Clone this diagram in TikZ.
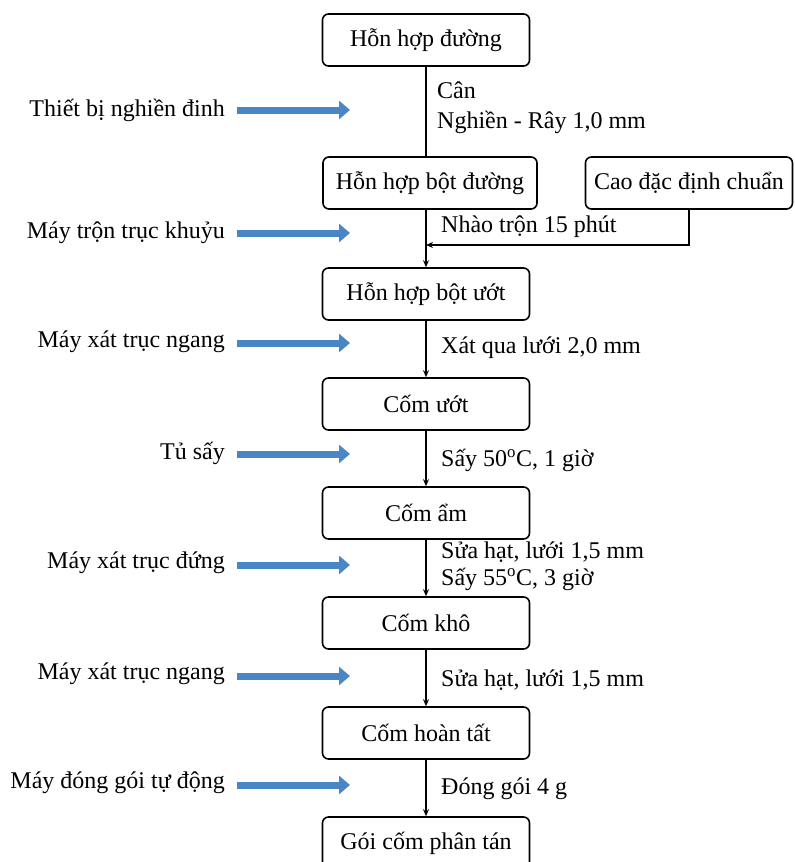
\documentclass[tikz,border=0pt]{standalone}
\usepackage{fontspec}
\setmainfont{Liberation Serif}
\usetikzlibrary{arrows.meta}
\definecolor{arrblue}{RGB}{74,134,198}
\tikzset{
  box/.style={draw, line width=1.6pt, rounded corners=6pt, minimum width=207pt, minimum height=52pt, inner sep=2pt, font=\fontsize{24}{28}\selectfont},
  lbl/.style={anchor=west, inner sep=0pt, font=\fontsize{24}{28}\selectfont},
  mlbl/.style={anchor=east, inner sep=0pt, font=\fontsize{24}{28}\selectfont},
  flow/.style={line width=1.2pt},
  flowarr/.style={line width=1.2pt, -{Stealth[length=7pt,width=6pt]}},
  bluearr/.style={draw=arrblue, line width=7pt, -{Triangle[length=11pt,width=18pt]}}
}
\begin{document}
\begin{tikzpicture}[x=1pt,y=-1pt]
\useasboundingbox (0,0) rectangle (795,862);
\clip (0,0) rectangle (795,862);
\fill[white] (0,0) rectangle (795,862);
% main boxes
\node[box] (b1) at (426,40) {Hỗn hợp đường};
\node[box, minimum width=214pt] (b2) at (430,183) {Hỗn hợp bột đường};
\node[box] (cao) at (689,183) {Cao đặc định chuẩn};
\node[box] (b3) at (426,294) {Hỗn hợp bột ướt};
\node[box] (b4) at (426,404) {Cốm ướt};
\node[box] (b5) at (426,513) {Cốm ẩm};
\node[box] (b6) at (426,623) {Cốm khô};
\node[box] (b7) at (426,733) {Cốm hoàn tất};
\node[box] (b8) at (426,843) {Gói cốm phân tán};
\coordinate (j) at (426,245);
% connectors
\draw[flow] (b1.south) -- (b1.south |- b2.north);
\draw[flowarr] (b2.south -| b1.south) -- (b3.north);
\draw[flowarr] (cao.south) |- (j);
\draw[flowarr] (b3.south) -- (b4.north);
\draw[flowarr] (b4.south) -- (b5.north);
\draw[flowarr] (b5.south) -- (b6.north);
\draw[flowarr] (b6.south) -- (b7.north);
\draw[flowarr] (b7.south) -- (b8.north);
% step labels
\node[lbl] (t1) at (437,90) {Cân};
\node[lbl] (t2) at (437,122) {Nghiền - Rây 1,0 mm};
\node[lbl] (t3) at (441,227) {Nhào trộn 15 phút};
\node[lbl] (t4) at (441,348) {Xát qua lưới 2,0 mm};
\node[lbl] (t5) at (441,460) {Sấy 50\textsuperscript{o}C, 1 giờ};
\node[lbl] (t6) at (441,552) {Sửa hạt, lưới 1,5 mm};
\node[lbl] (t7) at (441,579) {Sấy 55\textsuperscript{o}C, 3 giờ};
\node[lbl] (t8) at (441,680) {Sửa hạt, lưới 1,5 mm};
\node[lbl] (t9) at (441,789) {Đóng gói 4 g};
% machines
\node[mlbl] (m1) at (225,110) {Thiết bị nghiền đinh};
\node[mlbl] (m2) at (225,233) {Máy trộn trục khuỷu};
\node[mlbl] (m3) at (225,342) {Máy xát trục ngang};
\node[mlbl] (m4) at (225,453) {Tủ sấy};
\node[mlbl] (m5) at (225,563) {Máy xát trục đứng};
\node[mlbl] (m6) at (225,674) {Máy xát trục ngang};
\node[mlbl] (m7) at (225,783) {Máy đóng gói tự động};
\foreach \n/\y in {a1/110,a2/233,a3/343,a4/454,a5/565,a6/676,a7/785}{
  \coordinate (\n s) at (237,\y);
  \coordinate (\n e) at (350,\y);
  \draw[bluearr] (\n s) -- (\n e);
}
\end{tikzpicture}
\end{document}
